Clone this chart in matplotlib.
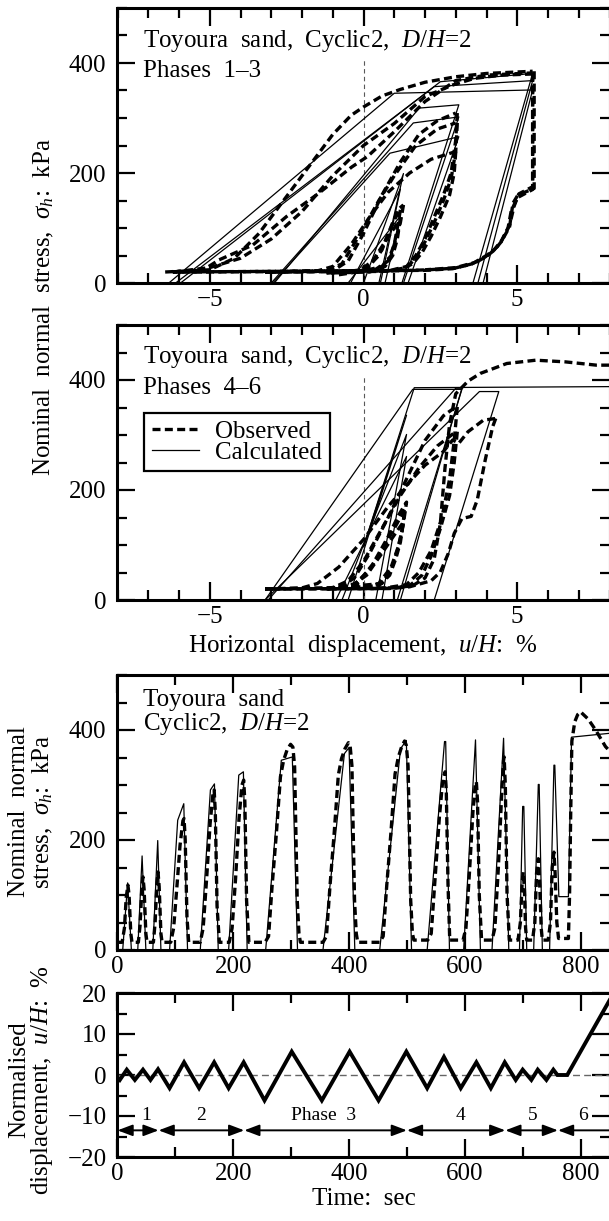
import numpy as np
import matplotlib.pyplot as plt
from matplotlib.lines import Line2D
from matplotlib.ticker import MultipleLocator

plt.rcParams['font.family'] = ['Liberation Serif', 'DejaVu Serif']
plt.rcParams['mathtext.fontset'] = 'custom'
plt.rcParams['mathtext.rm'] = 'Liberation Serif'
plt.rcParams['mathtext.it'] = 'Liberation Serif:italic'
plt.rcParams['font.size'] = 18

# ---- stress - displacement branches, (u/H %, sigma_h kPa) ----
# phases 1-3, observed
obs_ph1 = [
    [(-0.8, 15), (-0.2, 20), (0.3, 40), (0.7, 75), (1.0, 100), (1.2, 118)],
    [(1.2, 118), (1.1, 80), (0.95, 50), (0.7, 30), (0.2, 20), (-1.2, 18)],
    [(-1.2, 18), (0.0, 22), (0.5, 50), (0.85, 95), (1.05, 120), (1.2, 133)],
    [(1.2, 133), (1.1, 100), (1.0, 70), (0.8, 40), (0.4, 25), (-1.2, 19)],
    [(-1.2, 19), (0.1, 24), (0.6, 60), (0.95, 110), (1.15, 135), (1.3, 142)],
    [(1.3, 142), (1.2, 110), (1.05, 80), (0.9, 50), (0.6, 30), (0.0, 22), (-3.2, 20)],
]
obs_ph2 = [
    [(-3.2, 20), (-1.5, 22), (-1.0, 30), (-0.4, 70), (0.2, 120), (0.8, 165), (1.5, 200), (2.2, 225), (3.0, 239)],
    [(3.0, 239), (2.95, 200), (2.8, 160), (2.5, 120), (2.2, 85), (1.9, 55), (1.6, 35), (1.2, 24), (0.5, 21), (-3.2, 20)],
    [(-3.2, 20), (-1.2, 22), (-0.7, 35), (-0.1, 90), (0.5, 150), (1.0, 195), (1.7, 250), (2.4, 280), (3.0, 291)],
    [(3.05, 291), (3.0, 240), (2.85, 190), (2.6, 150), (2.3, 110), (2.0, 75), (1.7, 45), (1.4, 28), (0.8, 22), (-3.2, 20)],
    [(-3.2, 20), (-1.0, 22), (-0.5, 40), (0.0, 90), (0.6, 160), (1.2, 220), (1.8, 270), (2.4, 295), (3.0, 309)],
    [(3.05, 309), (3.0, 260), (2.85, 200), (2.6, 160), (2.3, 120), (2.0, 80), (1.7, 50), (1.4, 30), (0.8, 22), (-6.2, 20)],
]
obs_ph3 = [
    [(-6.45, 20), (-5.0, 24), (-4.2, 45), (-3.4, 90), (-2.6, 150), (-1.8, 210), (-1.0, 270), (-0.4, 305),
     (0.0, 320), (0.6, 340), (1.2, 352), (2.0, 365), (3.0, 375), (4.0, 381), (5.5, 385)],
    [(5.55, 385), (5.55, 172), (5.02, 160), (4.86, 145), (4.75, 102), (4.48, 75), (4.26, 60), (3.99, 48),
     (3.61, 36), (2.97, 27), (2.1, 24), (1.0, 22), (-6.2, 20)],
    [(-6.2, 20), (-5.0, 28), (-4.0, 45), (-3.0, 80), (-2.0, 130), (-1.0, 195), (0.0, 250), (1.0, 290),
     (2.0, 339), (2.9, 360), (3.6, 372), (4.5, 378), (5.5, 380)],
    [(5.5, 380), (5.5, 170), (5.0, 155), (4.8, 130), (4.7, 100), (4.45, 72), (4.2, 58), (3.9, 45),
     (3.5, 34), (2.9, 26), (2.0, 23), (-6.2, 20)],
    [(-6.2, 20), (-5.2, 24), (-4.7, 42), (-3.6, 69), (-2.5, 121), (-1.46, 163), (-0.38, 211), (0.13, 230),
     (1.0, 275), (2.0, 330), (3.0, 368), (4.0, 378), (5.5, 382)],
    [(5.5, 382), (5.5, 175), (5.05, 162), (4.9, 140), (4.75, 105), (4.5, 78), (4.25, 60), (4.0, 50),
     (3.6, 37), (3.0, 28), (2.0, 24)],
]
# phases 1-3, calculated
calc_ph1 = [
    [(-0.5, 0), (1.2, 122), (0.7, 0)],
    [(-0.42, 0), (1.2, 171), (0.55, 0)],
    [(0.0, 0), (1.3, 199), (0.5, 0)],
]
calc_ph2 = [
    [(-2.95, 0), (0.86, 236), (3.1, 266), (1.45, 0)],
    [(-3.0, 0), (1.62, 291), (3.1, 302), (1.3, 0)],
    [(-2.9, 0), (1.81, 318), (3.1, 324), (1.25, 0)],
]
calc_ph3 = [
    [(-6.33, 0), (1.0, 345), (5.5, 351), (3.89, 0)],
    [(-6.11, 0), (2.3, 357), (5.5, 368), (3.72, 0)],
    [(-5.95, 0), (2.5, 366), (5.5, 381), (3.56, 0)],
]
# phases 4-6, observed
obs_ph4 = [
    [(-3.2, 20), (-2.0, 22), (-1.5, 30), (-0.8, 60), (0.0, 110), (0.8, 170), (1.5, 215), (2.0, 245),
     (2.6, 270), (2.9, 291), (3.1, 285), (3.4, 306), (3.9, 327), (4.3, 330)],
    [(4.3, 330), (4.2, 315), (3.96, 255), (3.7, 182), (3.5, 152), (3.2, 148), (2.95, 121), (2.76, 85),
     (2.5, 51), (2.2, 35), (1.5, 24), (0.9, 21), (-3.2, 20)],
    [(-3.2, 20), (-1.0, 22), (-0.5, 35), (0.0, 70), (0.6, 130), (1.2, 190), (1.8, 240), (2.4, 280), (3.0, 306)],
    [(3.05, 306), (2.95, 250), (2.8, 190), (2.5, 130), (2.2, 80), (1.9, 45), (1.5, 26), (0.9, 21), (-3.2, 20)],
    [(-3.2, 20), (-0.8, 22), (-0.3, 40), (0.2, 85), (0.8, 150), (1.4, 220), (2.0, 290), (2.6, 335), (3.0, 351)],
    [(3.05, 351), (2.95, 290), (2.8, 220), (2.55, 150), (2.2, 90), (1.8, 50), (1.4, 28), (0.6, 21), (-1.2, 20)],
]
obs_ph5 = [
    [(-1.2, 20), (-0.4, 25), (0.1, 45), (0.6, 85), (1.0, 118), (1.3, 142), (1.2, 105), (1.05, 75),
     (0.85, 45), (0.5, 26), (-1.2, 20)],
    [(-1.2, 20), (-0.3, 28), (0.2, 55), (0.7, 100), (1.1, 140), (1.35, 166), (1.25, 125), (1.1, 90),
     (0.9, 55), (0.6, 30), (-1.2, 21)],
    [(-1.2, 21), (-0.2, 30), (0.3, 65), (0.8, 115), (1.15, 155), (1.4, 178), (1.3, 140), (1.15, 100),
     (0.9, 60), (0.5, 30), (0.0, 22)],
]
obs_ph6 = [
    [(0.0, 22), (1.0, 22), (1.6, 26), (2.0, 40), (2.3, 75), (2.5, 140), (2.65, 240), (2.8, 320),
     (3.0, 375), (3.4, 398), (3.8, 412), (4.66, 430), (5.6, 436), (6.56, 433), (7.57, 427), (8.1, 427)],
]
# phases 4-6, calculated
calc_ph4 = [
    [(-3.2, 0), (3.77, 379), (4.4, 379), (2.3, 0)],
    [(-3.2, 0), (1.6, 383), (3.2, 383), (1.1, 0)],
    [(-3.1, 0), (3.0, 385), (3.2, 385), (1.2, 0)],
]
calc_ph5 = [
    [(-0.9, 0), (1.4, 261), (0.6, 0)],
    [(-0.7, 0), (1.4, 301), (0.4, 0)],
    [(-0.5, 0), (1.4, 336), (0.0, 97)],
]
calc_ph6 = [
    [(0.0, 97), (1.65, 386), (8.1, 388)],
]

# ---- time histories ----
obs_t = [0, 8, 12, 15, 18, 20, 23, 25,
         36, 39, 42, 44, 46, 49, 51,
         62, 65, 68, 70, 72, 75, 77,
         92, 97, 103, 108, 113, 115, 117, 120, 123,
         143, 148, 154, 160, 165, 167, 169, 172, 176,
         193, 198, 204, 210, 215, 218, 220, 223, 227,
         255, 261, 267, 274.5, 281.5, 287, 293, 299, 303, 306, 310.5, 313.5, 316,
         355, 361, 367, 374.5, 381.5, 387, 393, 399, 402, 405, 409.5, 412.5, 415,
         453, 459, 465, 472.5, 479.5, 485, 491, 496, 499, 502, 506.5, 509.5, 512,
         536, 542, 548, 556, 562, 566, 568, 571, 574,
         597, 602, 608, 614, 618, 620, 622, 625, 629,
         647, 652, 658, 664, 667, 668, 670, 673, 677,
         692, 696, 699, 701, 703, 705, 707,
         717, 721, 724, 727, 729, 732, 734,
         744, 748, 751, 754, 756, 759, 762,
         779, 781, 783, 785, 790, 795, 800, 813, 826, 843, 850]
obs_s = [14, 14, 40, 95, 118, 100, 30, 14,
         14, 45, 110, 133, 110, 30, 14,
         14, 50, 120, 142, 115, 30, 14,
         14, 40, 120, 190, 235, 239, 200, 60, 14,
         14, 40, 130, 230, 285, 291, 250, 80, 14,
         14, 40, 130, 240, 300, 309, 270, 90, 14,
         14, 25, 115, 212, 315, 345, 364, 374, 369, 333, 91, 30, 14,
         14, 25, 115, 215, 318, 348, 366, 377, 370, 335, 91, 30, 14,
         14, 25, 115, 215, 320, 350, 370, 380, 372, 335, 91, 30, 18,
         18, 30, 120, 240, 310, 324, 290, 120, 18,
         18, 40, 140, 250, 300, 306, 270, 100, 18,
         18, 40, 150, 290, 345, 351, 300, 100, 18,
         18, 50, 120, 142, 110, 40, 18,
         18, 50, 140, 166, 130, 40, 18,
         18, 50, 150, 178, 140, 50, 21,
         21, 100, 250, 380, 415, 428, 433, 420, 400, 370, 362]
calc_t = [0, 9, 17.5, 24, 35, 42.5, 49, 61, 69.5, 75,
          90, 104, 114.5, 121, 143, 160.5, 167.5, 174, 192, 209.5, 217.5, 224,
          256, 283, 302, 311, 355, 392, 400, 410, 453, 489, 499, 508,
          535, 565, 567, 573.5, 598, 618.5, 627, 647, 667, 676,
          694.5, 700, 702, 707, 719, 727, 728.5, 734, 746.5, 754, 755.5, 762.5, 779, 784.5, 850]
calc_s = [0, 0, 122, 0, 0, 171, 0, 0, 199, 0,
          0, 236, 266, 0, 0, 291, 302, 0, 0, 318, 324, 0,
          0, 345, 351, 0, 0, 357, 368, 0, 0, 366, 381, 0,
          0, 379, 379, 0, 0, 382, 0, 0, 385, 0,
          0, 261, 261, 0, 0, 301, 301, 0, 0, 336, 336, 97, 97, 387, 394]

# imposed displacement u/H (%) at turning points
disp_t = [0, 4, 16, 30, 44, 57, 70, 90, 115, 141, 167, 192, 218, 254, 301, 353, 401, 451, 499,
          535, 564, 593, 620, 645, 669, 688, 700, 715, 726, 741, 753, 760, 777, 850]
disp_u = [-0.6, -1.2, 1.3, -1.2, 1.3, -1.2, 1.4, -3.2, 3.1, -3.2, 3.1, -3.2, 3.1, -6.2, 5.7, -6.2, 5.7, -6.2, 5.7,
          -3.2, 4.4, -3.2, 3.1, -3.2, 3.1, -1.2, 1.3, -1.2, 1.3, -1.2, 1.3, 0.0, 0.0, 18.2]

phase_edges = [0, 71, 219, 500, 670, 761, 850]
phase_names = ['1', '2', 'Phase  3', '4', '5', '6']
phase_label_t = [50, 144, 356, 592, 717, 804]

OBS = dict(color='k', lw=2.4, dashes=(2.4, 1.3), solid_capstyle='butt', dash_capstyle='butt')
CALC = dict(color='k', lw=0.9)


def draw_branches(ax, groups, style):
    for group in groups:
        for br in group:
            u, s = zip(*br)
            ax.plot(u, s, **style)


def style_axes(ax, xmaj, xmin, ymaj, ymin):
    ax.xaxis.set_major_locator(MultipleLocator(xmaj))
    ax.xaxis.set_minor_locator(MultipleLocator(xmin))
    ax.yaxis.set_major_locator(MultipleLocator(ymaj))
    ax.yaxis.set_minor_locator(MultipleLocator(ymin))
    ax.tick_params(which='both', direction='in', top=True, right=True, width=1.6)
    ax.tick_params(which='major', length=13)
    ax.tick_params(which='minor', length=7.5)
    ax.tick_params(axis='x', which='major', pad=4.5, labelsize=18)
    ax.tick_params(axis='y', which='major', pad=8, labelsize=18)
    for sp in ax.spines.values():
        sp.set_linewidth(2.2)


fig = plt.figure(figsize=(6.09, 12.21), dpi=100)
H = 1221.0
L = 117.5 / 609
W = 492.0 / 609


def row(top, bottom):
    return [L, 1 - bottom / H, W, (bottom - top) / H]


ax1 = fig.add_axes(row(8, 283))
ax2 = fig.add_axes(row(325, 600))
ax3 = fig.add_axes(row(675, 950))
ax4 = fig.add_axes(row(993, 1157))

# top two: hysteresis loops
for ax, obs, calc, title in [(ax1, [obs_ph1, obs_ph2, obs_ph3], [calc_ph1, calc_ph2, calc_ph3], 'Phases  1\u20133'),
                             (ax2, [obs_ph4, obs_ph5, obs_ph6], [calc_ph4, calc_ph5, calc_ph6], 'Phases  4\u20136')]:
    ax.axvline(0, ymax=0.82, color='0.35', lw=0.8, dashes=(4, 3))
    draw_branches(ax, calc, CALC)
    draw_branches(ax, obs, OBS)
    ax.set_xlim(-8, 8)
    ax.set_ylim(0, 500)
    style_axes(ax, 5, 1, 200, 50)
    ax.text(0.051, 0.86, 'Toyoura  sand,  Cyclic2,  $D/H$=2', transform=ax.transAxes, va='baseline')
    ax.text(0.051, 0.749, title, transform=ax.transAxes, va='baseline')

handles = [Line2D([], [], **OBS), Line2D([], [], **CALC)]
leg = ax2.legend(handles, ['Observed', 'Calculated'], loc='upper left', bbox_to_anchor=(0.054, 0.681),
                 borderaxespad=0, frameon=True, fancybox=False, framealpha=1, edgecolor='k',
                 handlelength=1.9, handletextpad=0.65, labelspacing=-0.05, borderpad=0.3, fontsize=18)
leg.get_frame().set_linewidth(1.6)

fig.text(43.5 / 609, 1 - 307 / H, 'Nominal  normal  stress,  $\\sigma_h$:  kPa', rotation=90,
         ha='center', va='center')
fig.text(362.5 / 609, 1 - 652 / H, 'Horizontal  displacement,  $u/H$:  %', ha='center', va='baseline')

# stress history
ax3.plot(calc_t, calc_s, **CALC)
ax3.plot(obs_t, obs_s, **OBS)
ax3.set_xlim(0, 850)
ax3.set_ylim(0, 500)
style_axes(ax3, 200, 100, 200, 50)
ax3.text(0.051, 0.887, 'Toyoura  sand', transform=ax3.transAxes, va='baseline')
ax3.text(0.051, 0.80, 'Cyclic2,  $D/H$=2', transform=ax3.transAxes, va='baseline')
fig.text(19.5 / 609, 1 - 812 / H, 'Nominal  normal', rotation=90, ha='center', va='center')
fig.text(42.5 / 609, 1 - 812 / H, 'stress,  $\\sigma_h$:  kPa', rotation=90, ha='center', va='center')

# displacement history
ax4.axhline(0, color='0.4', lw=1.0, dashes=(5, 3))
ax4.plot(disp_t, disp_u, color='k', lw=2.8, solid_joinstyle='miter')
ax4.set_xlim(0, 850)
ax4.set_ylim(-20, 20)
style_axes(ax4, 200, 100, 10, 5)
for i in range(len(phase_names)):
    t0, t1 = phase_edges[i], phase_edges[i + 1]
    arrow = '<|-|>' if i < len(phase_names) - 1 else '<|-'
    ax4.annotate('', xy=(t1, -13.5), xytext=(t0, -13.5),
                 arrowprops=dict(arrowstyle=arrow + ',head_length=0.45,head_width=0.17', color='k', lw=1.4,
                                 shrinkA=0, shrinkB=0, mutation_scale=20))
    ax4.text(phase_label_t[i], -10, phase_names[i], ha='center', va='center', fontsize=14)
ax4.set_xlabel('Time:  sec', labelpad=2)
fig.text(19.5 / 609, 1 - 1080 / H, 'Normalised', rotation=90, ha='center', va='center')
fig.text(42.5 / 609, 1 - 1080 / H, 'displacement,  $u/H$:  %', rotation=90, ha='center', va='center')

fig.savefig('out.png', dpi=100)
